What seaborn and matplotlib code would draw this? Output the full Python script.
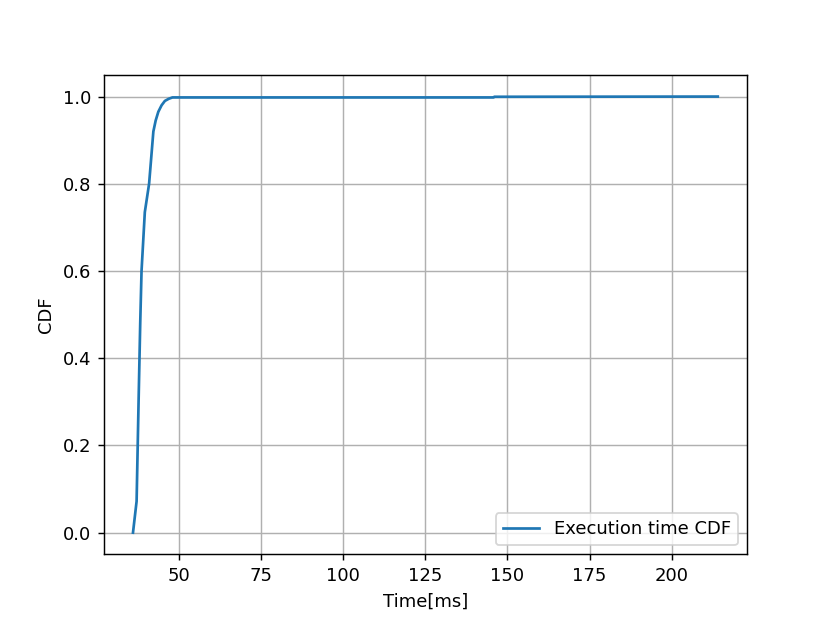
import matplotlib
matplotlib.use("Agg")
import matplotlib.pyplot as plt
import seaborn as sns
import pandas as pd

time_ms = [36.1, 37.2, 37.8, 38.3, 38.7, 39.7, 41.0, 42.3, 43.0, 43.8, 44.8, 45.8, 47.0, 48.1, 145.8, 146.0, 214.0]
cdf = [0.0, 0.072, 0.30, 0.48, 0.60, 0.735, 0.80, 0.92, 0.945, 0.965, 0.98, 0.99, 0.995, 0.998, 0.998, 0.9995, 1.0]

df = pd.DataFrame({"Time[ms]": time_ms, "CDF": cdf})

fig, ax = plt.subplots(figsize=(830 / 130, 623 / 130), dpi=130)
sns.lineplot(data=df, x="Time[ms]", y="CDF", ax=ax, label="Execution time CDF",
             color="#1f77b4", linewidth=1.5, sort=False, estimator=None)
ax.set_xticks([50, 75, 100, 125, 150, 175, 200])
ax.set_yticks([0.0, 0.2, 0.4, 0.6, 0.8, 1.0])
ax.grid(True)
ax.legend(loc="lower right")
fig.savefig("out.png", dpi=130)
